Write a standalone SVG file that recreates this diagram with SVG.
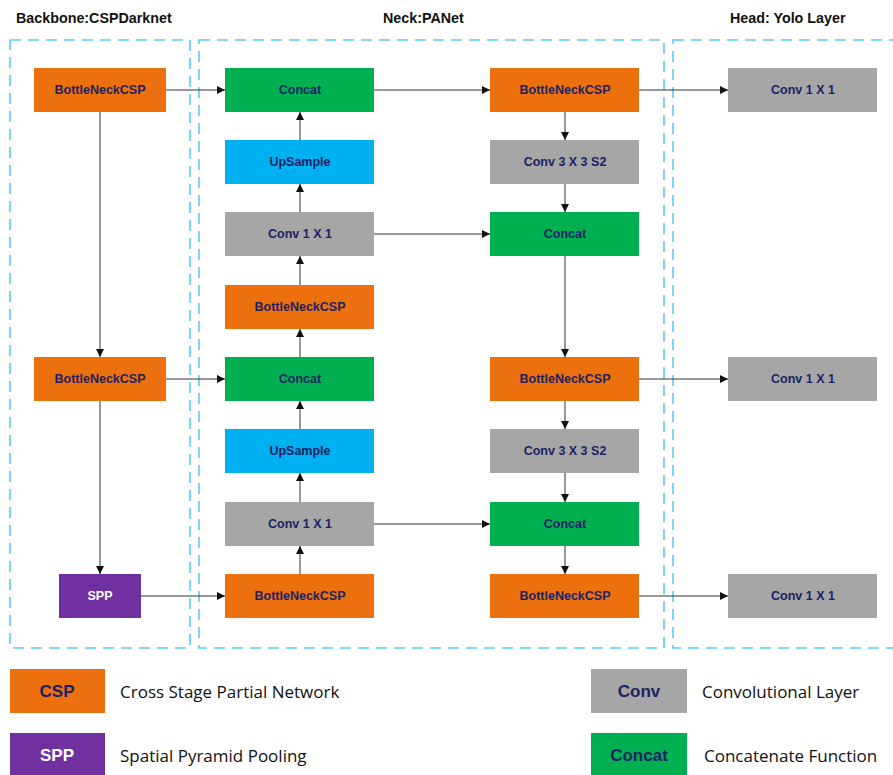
<svg xmlns="http://www.w3.org/2000/svg" width="893" height="775" viewBox="0 0 893 775">
<style>
.t{font-family:"Liberation Sans",Arial,sans-serif;font-weight:bold;font-size:12.5px;fill:#1B2266;text-anchor:middle;dominant-baseline:central}
.title{font-family:"Liberation Sans",Arial,sans-serif;font-weight:bold;font-size:14.3px;fill:#111}
.lg{font-family:"Open Sans","Liberation Sans",sans-serif;font-size:17px;fill:#111;dominant-baseline:central}
.lt{font-family:"Liberation Sans",Arial,sans-serif;font-weight:bold;font-size:17px;fill:#1B2266;text-anchor:middle;dominant-baseline:central}
.csp{fill:#EC700E}
.conv{fill:#A6A6A6}
.cat{fill:#00B050}
.up{fill:#00B0F0}
.spp{fill:#7030A0}
.box{fill:none;stroke:#5CCBF5;stroke-width:1.6;stroke-dasharray:11 7}
.c{stroke:#333;stroke-width:1;fill:none;marker-end:url(#a)}
.g{stroke:#7F7F7F;stroke-width:1.6;fill:none;marker-end:url(#a)}
</style>
<defs>
<marker id="a" viewBox="0 0 10 10" refX="10" refY="5" markerWidth="8" markerHeight="8" markerUnits="userSpaceOnUse" orient="auto"><path d="M0,0L10,5L0,10z" fill="#111"/></marker>
</defs>
<rect width="893" height="775" fill="#fff"/>
<g id="groups">
<rect class="box" x="10" y="40" width="180" height="608"/>
<rect class="box" x="199" y="40" width="465" height="608"/>
<rect class="box" x="673" y="40" width="240" height="608"/>
<text class="title" x="16" y="23">Backbone:CSPDarknet</text>
<text class="title" x="383" y="23">Neck:PANet</text>
<text class="title" x="730" y="23">Head: Yolo Layer</text>
</g>
<g id="connectors">
<path class="c" d="M166,90H225"/>
<path class="c" d="M100,112V357"/>
<path class="c" d="M166,379H225"/>
<path class="c" d="M100,401V574"/>
<path class="c" d="M141,596H225"/>
<path class="c" d="M300,574V546"/>
<path class="c" d="M300,502V473"/>
<path class="c" d="M300,429V401"/>
<path class="c" d="M300,357V329"/>
<path class="c" d="M300,285V256"/>
<path class="c" d="M300,212V184"/>
<path class="c" d="M300,140V112"/>
<path class="c" d="M374,90H490"/>
<path class="c" d="M374,234H490"/>
<path class="c" d="M374,524H490"/>
<path class="g" d="M565,112V140"/>
<path class="g" d="M565,184V212"/>
<path class="g" d="M565,256V357"/>
<path class="g" d="M565,401V429"/>
<path class="g" d="M565,473V502"/>
<path class="g" d="M565,546V574"/>
<path class="c" d="M639,90H728"/>
<path class="c" d="M639,379H728"/>
<path class="c" d="M639,596H728"/>
</g>
<g id="bb1"><rect class="csp" x="34" y="68" width="132" height="44"/><text class="t" x="100" y="90">BottleNeckCSP</text></g>
<g id="bb2"><rect class="csp" x="34" y="357" width="132" height="44"/><text class="t" x="100" y="379">BottleNeckCSP</text></g>
<g id="spp"><rect class="spp" x="59" y="574" width="82" height="44"/><text class="t" x="100" y="596" style="fill:#fff">SPP</text></g>
<g id="n1"><rect class="cat" x="225" y="68" width="149" height="44"/><text class="t" x="300" y="90">Concat</text></g>
<g id="n2"><rect class="up" x="225" y="140" width="149" height="44"/><text class="t" x="300" y="162">UpSample</text></g>
<g id="n3"><rect class="conv" x="225" y="212" width="149" height="44"/><text class="t" x="300" y="234">Conv 1 X 1</text></g>
<g id="n4"><rect class="csp" x="225" y="285" width="149" height="44"/><text class="t" x="300" y="307">BottleNeckCSP</text></g>
<g id="n5"><rect class="cat" x="225" y="357" width="149" height="44"/><text class="t" x="300" y="379">Concat</text></g>
<g id="n6"><rect class="up" x="225" y="429" width="149" height="44"/><text class="t" x="300" y="451">UpSample</text></g>
<g id="n7"><rect class="conv" x="225" y="502" width="149" height="44"/><text class="t" x="300" y="524">Conv 1 X 1</text></g>
<g id="n8"><rect class="csp" x="225" y="574" width="149" height="44"/><text class="t" x="300" y="596">BottleNeckCSP</text></g>
<g id="m1"><rect class="csp" x="490" y="68" width="149" height="44"/><text class="t" x="565" y="90">BottleNeckCSP</text></g>
<g id="m2"><rect class="conv" x="490" y="140" width="149" height="44"/><text class="t" x="565" y="162">Conv 3 X 3 S2</text></g>
<g id="m3"><rect class="cat" x="490" y="212" width="149" height="44"/><text class="t" x="565" y="234">Concat</text></g>
<g id="m4"><rect class="csp" x="490" y="357" width="149" height="44"/><text class="t" x="565" y="379">BottleNeckCSP</text></g>
<g id="m5"><rect class="conv" x="490" y="429" width="149" height="44"/><text class="t" x="565" y="451">Conv 3 X 3 S2</text></g>
<g id="m6"><rect class="cat" x="490" y="502" width="149" height="44"/><text class="t" x="565" y="524">Concat</text></g>
<g id="m7"><rect class="csp" x="490" y="574" width="149" height="44"/><text class="t" x="565" y="596">BottleNeckCSP</text></g>
<g id="h1"><rect class="conv" x="728" y="68" width="149" height="44"/><text class="t" x="803" y="90">Conv 1 X 1</text></g>
<g id="h2"><rect class="conv" x="728" y="357" width="149" height="44"/><text class="t" x="803" y="379">Conv 1 X 1</text></g>
<g id="h3"><rect class="conv" x="728" y="574" width="149" height="44"/><text class="t" x="803" y="596">Conv 1 X 1</text></g>
<g id="legend">
<rect class="csp" x="10" y="669" width="95" height="44"/><text class="lt" x="57" y="691">CSP</text>
<text class="lg" x="120" y="691">Cross Stage Partial Network</text>
<rect class="spp" x="10" y="733" width="95" height="44"/><text class="lt" x="57" y="755" style="fill:#fff">SPP</text>
<text class="lg" x="120" y="755">Spatial Pyramid Pooling</text>
<rect class="conv" x="591" y="669" width="96" height="44"/><text class="lt" x="639" y="691">Conv</text>
<text class="lg" x="702" y="691">Convolutional Layer</text>
<rect class="cat" x="591" y="733" width="96" height="44"/><text class="lt" x="639" y="755">Concat</text>
<text class="lg" x="704" y="755">Concatenate Function</text>
</g>
</svg>
